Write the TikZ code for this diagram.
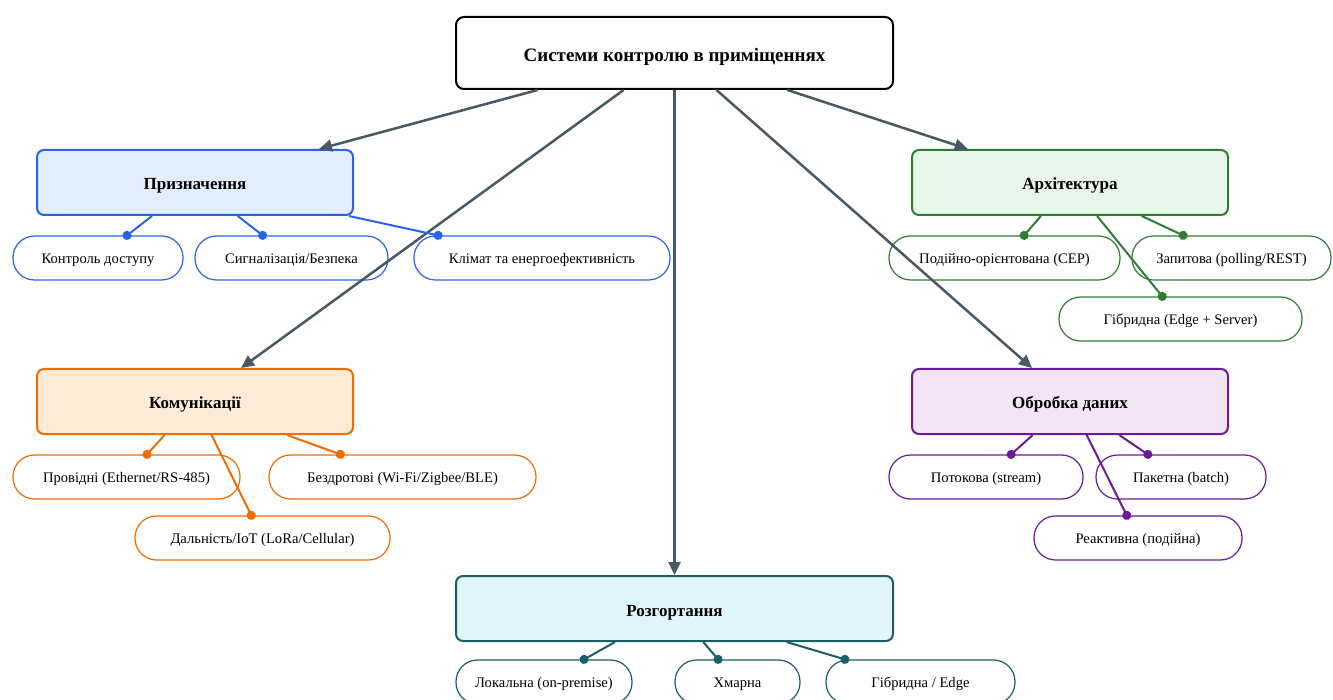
\documentclass[tikz,border=0pt]{standalone}
\usepackage{fontspec}
\setmainfont{Liberation Serif}
\usetikzlibrary{arrows.meta}

\definecolor{linkc}{HTML}{455A64}
\definecolor{blueB}{HTML}{2B63E8}\definecolor{blueF}{HTML}{E3EEFC}
\definecolor{greenB}{HTML}{2E7D32}\definecolor{greenF}{HTML}{E8F5E9}
\definecolor{orangeB}{HTML}{EF6C00}\definecolor{orangeF}{HTML}{FDEBD7}
\definecolor{purpleB}{HTML}{6A1B9A}\definecolor{purpleF}{HTML}{F3E5F5}
\definecolor{tealB}{HTML}{1B5E66}\definecolor{tealF}{HTML}{DFF5F9}

\begin{document}
\begin{tikzpicture}[x=1pt,y=-1pt,
  rootbox/.style={draw=black, fill=white, line width=2pt, rounded corners=8pt,
    minimum width=437pt, minimum height=72pt, inner sep=0pt,
    text height=17pt, text depth=0pt,
    font=\bfseries\fontsize{19}{22}\selectfont},
  catbox/.style={line width=2pt, rounded corners=7pt, minimum width=316pt,
    minimum height=65pt, inner sep=0pt, text height=15pt, text depth=0pt,
    font=\bfseries\fontsize{17}{20}\selectfont},
  leafbox/.style={fill=white, line width=1.2pt, rounded corners=21.5pt,
    minimum height=44pt, inner sep=0pt, text height=11pt, text depth=0pt,
    font=\fontsize{14.6}{17}\selectfont},
  mainlink/.style={draw=linkc, line width=2.5pt, -{Triangle[length=13pt,width=12pt]}},
  sublink/.style={line width=2pt, shorten >=-4.5pt, -{Circle[length=9pt]}}
]
\useasboundingbox (0,0) rectangle (1333,700);

% root
\node[rootbox] (root) at (674.5,53) {Системи контролю в приміщеннях};

% categories
\node[catbox, draw=blueB, fill=blueF]     (purp) at (195,182.5) {Призначення};
\node[catbox, draw=greenB, fill=greenF]   (arch) at (1070,182.5) {Архітектура};
\node[catbox, draw=orangeB, fill=orangeF] (comm) at (195,401.5) {Комунікації};
\node[catbox, draw=purpleB, fill=purpleF] (proc) at (1070,401.5) {Обробка даних};
\node[catbox, draw=tealB, fill=tealF, minimum width=437pt] (depl) at (674.5,608.5) {Розгортання};

% leaves: purpose
\node[leafbox, draw=blueB, minimum width=170pt] (p1) at (98,258) {Контроль доступу};
\node[leafbox, draw=blueB, minimum width=193pt] (p2) at (291.5,258) {Сигналізація/Безпека};
\node[leafbox, draw=blueB, minimum width=256pt] (p3) at (542,258) {Клімат та енергоефективність};

% leaves: architecture
\node[leafbox, draw=greenB, minimum width=231pt] (a1) at (1004.5,258) {Подійно-орієнтована (CEP)};
\node[leafbox, draw=greenB, minimum width=199pt] (a2) at (1231.5,258) {Запитова (polling/REST)};
\node[leafbox, draw=greenB, minimum width=243pt] (a3) at (1180.5,319) {Гібридна (Edge + Server)};

% leaves: communications
\node[leafbox, draw=orangeB, minimum width=227pt] (c1) at (126.5,477) {Провідні (Ethernet/RS-485)};
\node[leafbox, draw=orangeB, minimum width=267pt] (c2) at (402.5,477) {Бездротові (Wi-Fi/Zigbee/BLE)};
\node[leafbox, draw=orangeB, minimum width=255pt] (c3) at (262.5,538) {Дальність/IoT (LoRa/Cellular)};

% leaves: data processing
\node[leafbox, draw=purpleB, minimum width=194pt] (d1) at (986,477) {Потокова (stream)};
\node[leafbox, draw=purpleB, minimum width=170pt] (d2) at (1181,477) {Пакетна (batch)};
\node[leafbox, draw=purpleB, minimum width=208pt] (d3) at (1138,538) {Реактивна (подійна)};

% leaves: deployment
\node[leafbox, draw=tealB, minimum width=176pt] (e1) at (544,682) {Локальна (on-premise)};
\node[leafbox, draw=tealB, minimum width=125pt] (e2) at (737.5,682) {Хмарна};
\node[leafbox, draw=tealB, minimum width=189pt] (e3) at (920.5,682) {Гібридна / Edge};

% root to categories
\draw[mainlink] (root) -- (purp);
\draw[mainlink] (root) -- (comm);
\draw[mainlink] (root) -- (depl);
\draw[mainlink] (root) -- (arch);
\draw[mainlink] (root) -- (proc);

% categories to leaves
\foreach \c in {p1,p2,p3} \draw[sublink, blueB] (purp) -- (\c);
\foreach \c in {a1,a2,a3} \draw[sublink, greenB] (arch) -- (\c);
\foreach \c in {c1,c2,c3} \draw[sublink, orangeB] (comm) -- (\c);
\foreach \c in {d1,d2,d3} \draw[sublink, purpleB] (proc) -- (\c);
\foreach \c in {e1,e2,e3} \draw[sublink, tealB] (depl) -- (\c);
\end{tikzpicture}
\end{document}
